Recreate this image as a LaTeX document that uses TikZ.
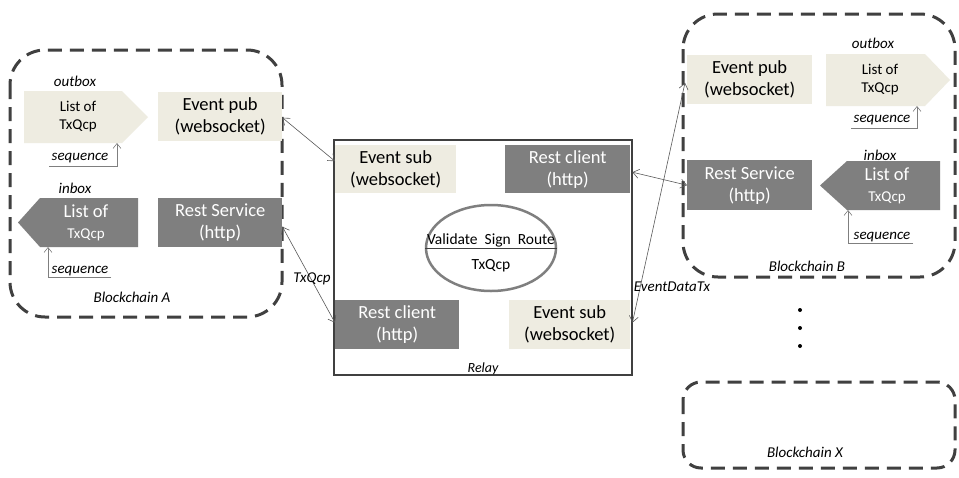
\documentclass[tikz,border=0pt]{standalone}
\usepackage{fontspec}
\setmainfont{Carlito}
\usetikzlibrary{arrows.meta,shapes.geometric,calc}
\definecolor{beige}{HTML}{EEECE1}
\definecolor{boxgray}{HTML}{7F7F7F}
\definecolor{edge}{HTML}{404040}
\definecolor{conn}{HTML}{595959}
\begin{document}
\begin{tikzpicture}[x=1pt,y=-1pt,
  boxbase/.style={inner sep=0pt, anchor=north west, align=center, font=\fontsize{18.5}{22}\selectfont},
  lightbox/.style={boxbase, fill=beige, text=black},
  darkbox/.style={boxbase, fill=boxgray, text=white},
  chain/.style={draw=edge, line width=3pt, dash pattern=on 14pt off 8pt, rounded corners=35pt},
  lbl/.style={font=\fontsize{15}{18}\selectfont\itshape, inner sep=0pt},
  link/.style={draw=conn, line width=0.6pt, {Straight Barb[length=6pt,width=9pt]}-{Straight Barb[length=6pt,width=9pt]}},
  seqline/.style={draw=boxgray, line width=0.6pt, -{Straight Barb[length=5pt,width=8pt]}},
  listtext/.style={inner sep=0pt, align=center, font=\fontsize{15}{18}\selectfont},
  dot/.style={circle, fill=black, inner sep=0pt, minimum size=4pt}
]
\useasboundingbox (0,0) rectangle (959,477);
\fill[white] (0,0) rectangle (959,477);

% ---------- Blockchain A ----------
\draw[chain] (10,50) rectangle (282,317);
\fill[beige] (24,91) -- (122,91) -- (148,117) -- (122,143) -- (24,143) -- cycle;
\node[listtext, text=black] (aout) at (78,117) {List of\\TxQcp};
\fill[boxgray] (18,222.5) -- (40,198) -- (138,198) -- (138,247) -- (40,247) -- cycle;
\node[listtext, text=white, font=\fontsize{15}{21}\selectfont] (ain) at (86,223) {{\fontsize{18.5}{21}\selectfont List of}\\TxQcp};
\node[lightbox, minimum width=124pt, minimum height=49pt] (apub) at (158,92) {Event pub\\(websocket)};
\node[darkbox, minimum width=124pt, minimum height=49pt] (arest) at (158,198) {Rest Service\\(http)};
\node[lbl] (aoutl) at (75,81) {outbox};
\node[lbl] (ainl) at (75,188) {inbox};
\node[lbl] (aseq1) at (80,158) {sequence};
\node[lbl] (aseq2) at (80,271) {sequence};
\node[lbl] (alabel) at (132,297) {Blockchain A};
\coordinate (as1a) at (49,166);
\coordinate (as1b) at (117,143);
\draw[seqline] (as1a) -| (as1b);
\coordinate (as2a) at (111,277);
\coordinate (as2b) at (48,247);
\draw[seqline] (as2a) -| (as2b);

% ---------- Relay ----------
\draw[draw=edge, line width=2.5pt] (334,140) rectangle (632,375);
\node[lightbox, minimum width=121pt, minimum height=48pt] (rsub1) at (335,145) {Event sub\\(websocket)};
\node[darkbox, minimum width=125pt, minimum height=48pt] (rcli1) at (505,145) {Rest client\\(http)};
\node[darkbox, minimum width=124pt, minimum height=49pt] (rcli2) at (335,300) {Rest client\\(http)};
\node[lightbox, minimum width=121pt, minimum height=49pt] (rsub2) at (509,300) {Event sub\\(websocket)};
\node[draw=boxgray, line width=2.5pt, ellipse, minimum width=130pt, minimum height=86pt, inner sep=0pt] (core) at (491,248) {};
\draw[edge, line width=0.8pt] (core.west) -- (core.east);
\node[inner sep=0pt, font=\fontsize{15.5}{18}\selectfont] (vsr) at (491,240) {Validate\ \ Sign\ \ Route};
\node[inner sep=0pt, font=\fontsize{15.5}{18}\selectfont] (ctx) at (491,266) {TxQcp};
\node[lbl, font=\fontsize{14}{17}\selectfont\itshape] (rlabel) at (483,369) {Relay};

% ---------- Blockchain B ----------
\draw[chain] (683,14) rectangle (955,277);
\node[lightbox, minimum width=125pt, minimum height=49pt] (bpub) at (687,55) {Event pub\\(websocket)};
\node[darkbox, minimum width=125pt, minimum height=50pt] (brest) at (687,160) {Rest Service\\(http)};
\fill[beige] (826,54) -- (925,54) -- (950,80) -- (925,106) -- (826,106) -- cycle;
\node[listtext, text=black] (bout) at (880,80) {List of\\TxQcp};
\fill[boxgray] (820,185.5) -- (847,161) -- (940,161) -- (940,210) -- (847,210) -- cycle;
\node[listtext, text=white, font=\fontsize{15}{21}\selectfont] (bin) at (887,186) {{\fontsize{18.5}{21}\selectfont List of}\\TxQcp};
\node[lbl] (boutl) at (873,43) {outbox};
\node[lbl] (binl) at (880,155) {inbox};
\node[lbl] (bseq1) at (882,120) {sequence};
\node[lbl] (bseq2) at (882,237) {sequence};
\node[lbl] (blabel) at (807,266) {Blockchain B};
\coordinate (bs1a) at (851,128);
\coordinate (bs1b) at (917,106);
\draw[seqline] (bs1a) -| (bs1b);
\coordinate (bs2a) at (913,243);
\coordinate (bs2b) at (848,210);
\draw[seqline] (bs2a) -| (bs2b);

% ---------- dots and Blockchain X ----------
\node[dot] (d1) at (800,310) {};
\node[dot] (d2) at (800,328) {};
\node[dot] (d3) at (800,346) {};
\draw[chain, rounded corners=18pt] (683,382) rectangle (955,468);
\node[lbl] (xlabel) at (805,452) {Blockchain X};

% ---------- connectors ----------
\draw[link] ([yshift=-1pt]apub.east) -- ([yshift=8pt]rsub1.west);
\draw[link] ([yshift=-4pt]arest.east) -- ([yshift=2pt]rcli2.west);
\draw[link] ([xshift=2pt,yshift=-3pt]rcli1.east) -- (brest.west);
\draw[link] ([xshift=2pt,yshift=2pt]rsub2.east) -- ([xshift=-2pt,yshift=-3pt]bpub.west);
\node[lbl] (txl) at (312,279) {TxQcp};
\node[lbl] (edl) at (672,287) {EventDataTx};
\end{tikzpicture}
\end{document}
